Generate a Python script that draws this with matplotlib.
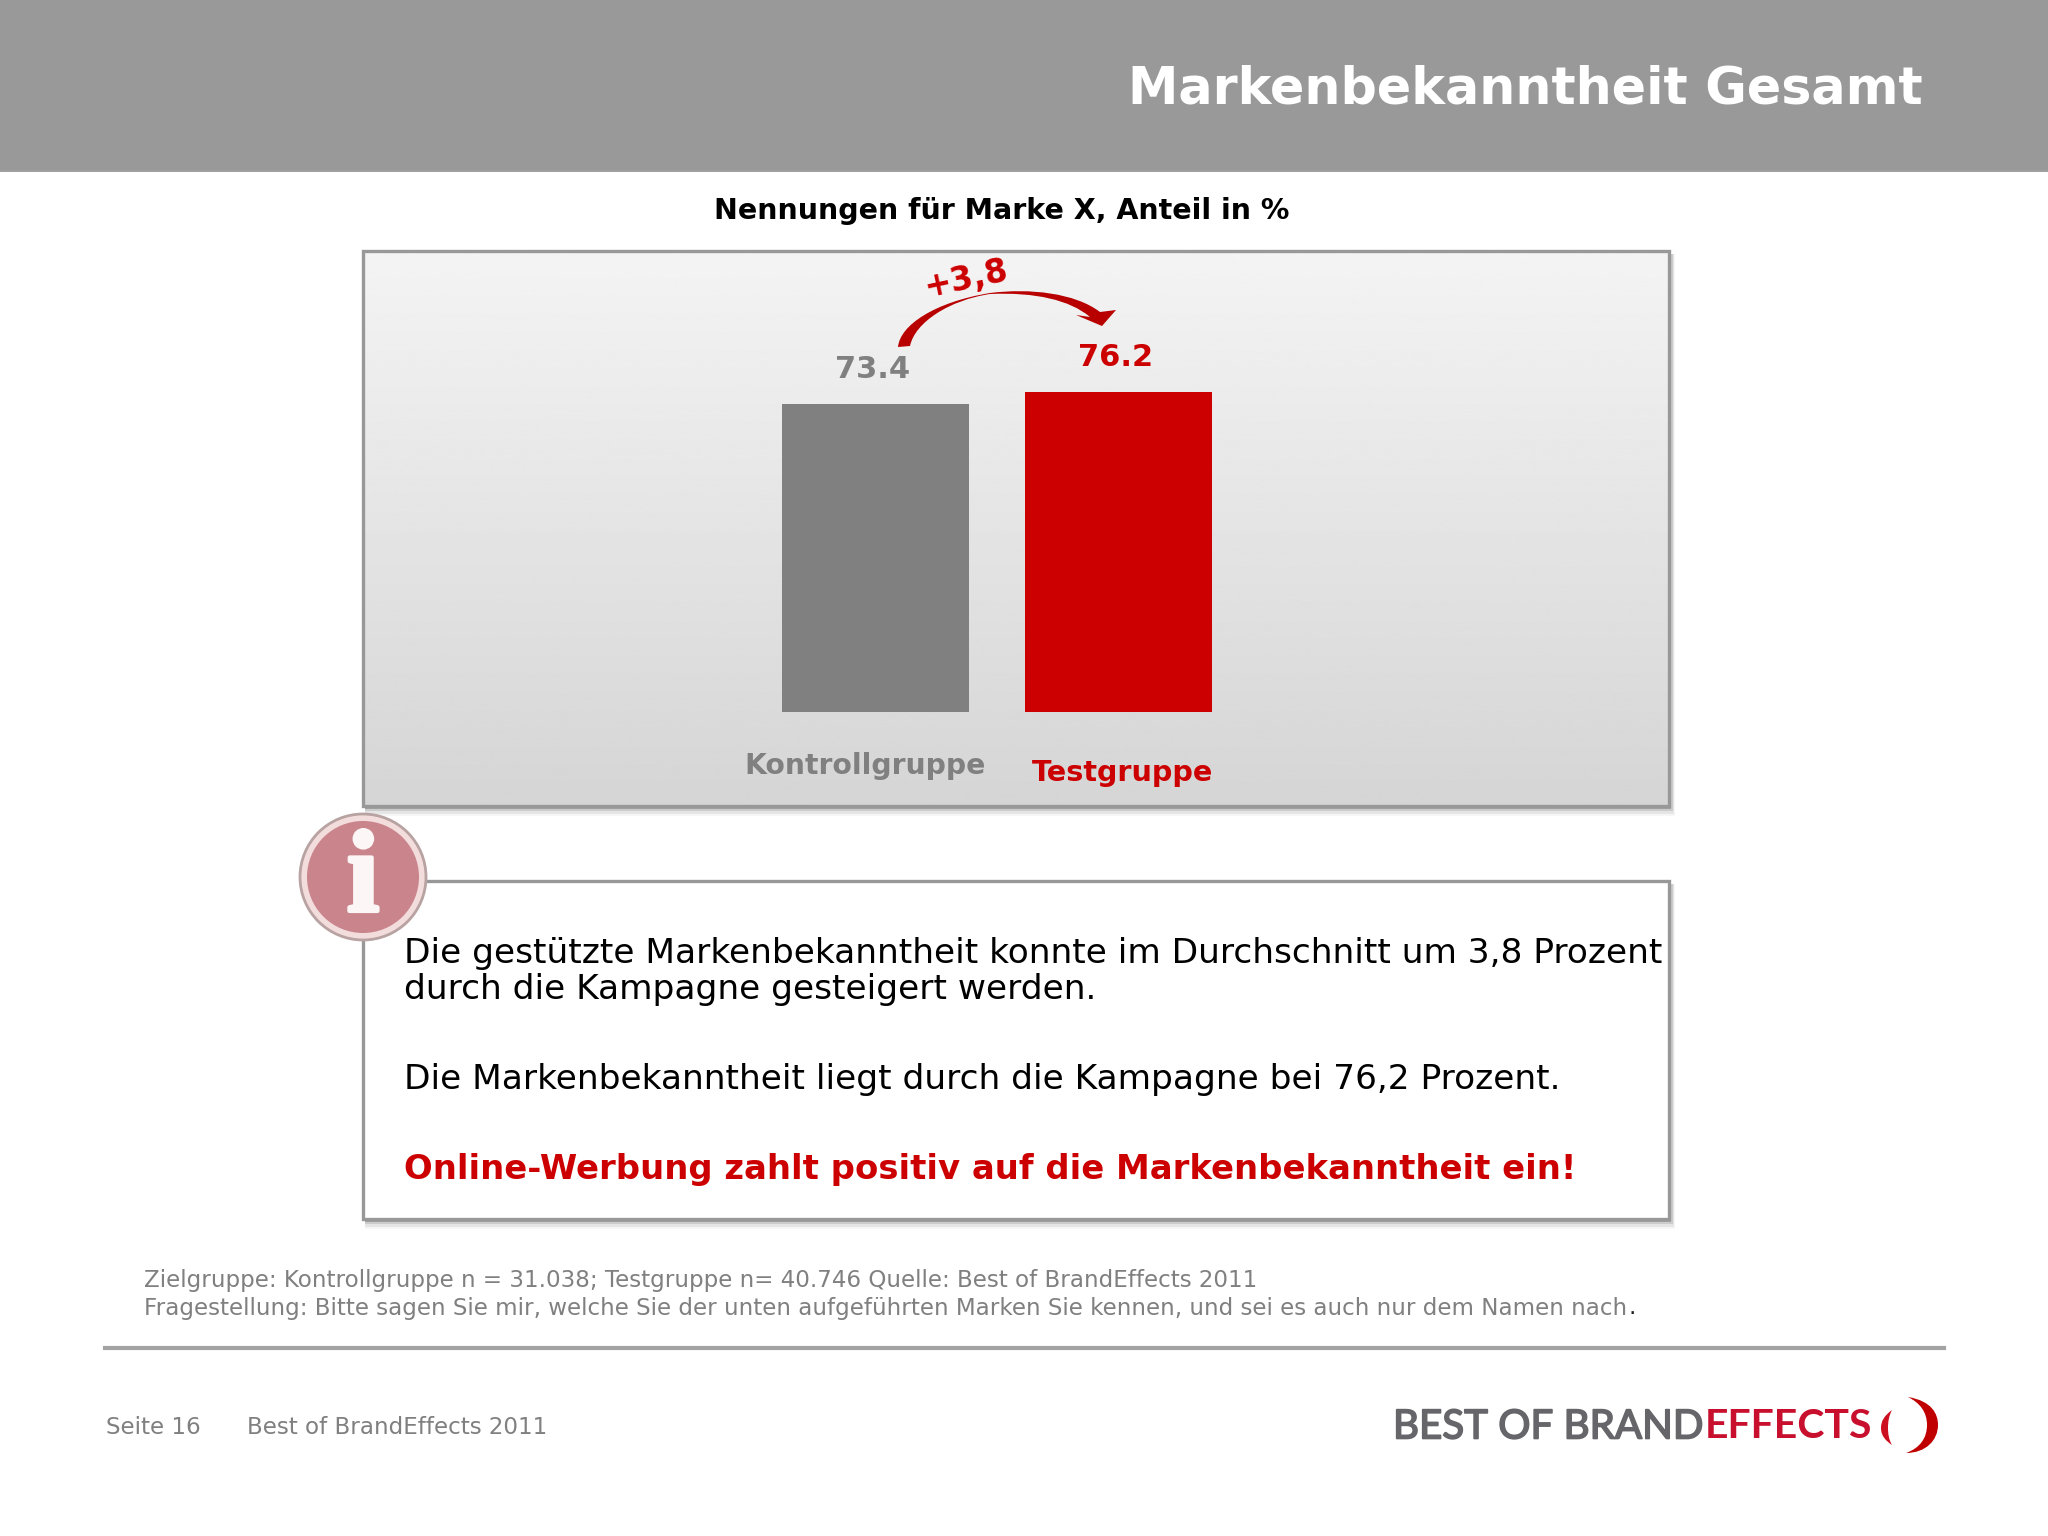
import matplotlib
matplotlib.use('Agg')

import numpy as np
import matplotlib.pyplot as plt
import matplotlib.patheffects as pe
from matplotlib.patches import Rectangle, Circle, PathPatch
from matplotlib.path import Path

# values
groups = ['Kontrollgruppe', 'Testgruppe']
shares = [73.4, 76.2]
lift_label = '+3,8'

title = 'Markenbekanntheit Gesamt'
subtitle = 'Nennungen für Marke X, Anteil in %'
body_lines = ['Die gestützte Markenbekanntheit konnte im Durchschnitt um 3,8 Prozent',
              'durch die Kampagne gesteigert werden.',
              'Die Markenbekanntheit liegt durch die Kampagne bei 76,2 Prozent.']
body_bold = 'Online-Werbung zahlt positiv auf die Markenbekanntheit ein!'
foot_lines = ['Zielgruppe: Kontrollgruppe n = 31.038; Testgruppe n= 40.746 Quelle: Best of BrandEffects 2011',
              'Fragestellung: Bitte sagen Sie mir, welche Sie der unten aufgeführten Marken Sie kennen, und sei es auch nur dem Namen nach']
page_label = 'Seite 16'
footer_label = 'Best of BrandEffects 2011'

GREY = '#808080'
RED = '#cc0000'
W, H = 2048, 1536

plt.rcParams['font.family'] = ['DejaVu Sans']
fig = plt.figure(figsize=(20.48, 15.36), dpi=100, facecolor='white')

# full page axes, in pixels
bg = fig.add_axes([0, 0, 1, 1])
bg.set_xlim(0, W)
bg.set_ylim(H, 0)
bg.axis('off')


def vgrad(x0, y0, x1, y1, top, bottom, z=1):
	g = np.linspace(top, bottom, 256).reshape(-1, 1)
	bg.imshow(g, extent=[x0, x1, y1, y0], cmap='gray', vmin=0, vmax=1,
		aspect='auto', zorder=z, interpolation='bilinear')


def panel(x0, y0, x1, y1):
	# soft shadow, mostly below
	for dx, dy, a in zip([6, 5, 4, 2], [10, 8, 5, 3], [0.05, 0.10, 0.18, 0.35]):
		bg.add_patch(Rectangle((x0 + 2, y0 + 3), x1 - x0 + dx - 2, y1 - y0 + dy - 3,
			fc='#555555', ec='none', alpha=a, zorder=2))


def crescent(verts, color):
	codes = [Path.MOVETO] + [Path.CURVE4] * (len(verts) - 1)
	bg.add_patch(PathPatch(Path(verts, codes), fc=color, ec='none', zorder=6))


# header
bg.add_patch(Rectangle((0, 0), W, 170, fc='#999999', ec='none', zorder=1))
bg.plot([0, W], [170.5, 170.5], color='#8e8e8e', lw=1.2, zorder=1)
bg.text(1923, 90, title, color='white', fontsize=36.5, fontweight='bold', ha='right', va='center', zorder=5)
bg.text(1002, 211, subtitle, color='black', fontsize=20.5, fontweight='bold', ha='center', va='center', zorder=5)

# chart panel
panel(363, 251, 1669, 806)
vgrad(363, 251, 1669, 806, 0.955, 0.835, z=3)
bg.add_patch(Rectangle((363, 251), 1306, 555, fc='none', ec='#989898', lw=2.4, zorder=4))

# bars
ax = fig.add_axes([363 / W, 1 - 806 / H, 1306 / W, 555 / H], facecolor='none', zorder=3)
ax.set_xlim(363, 1669)
y_per_px = 73.4 / 308.0
ax.set_ylim(-(806 - 712) * y_per_px, (712 - 251) * y_per_px)
ax.axis('off')
centers = [875.5, 1118]
colors = [GREY, RED]
ax.bar(centers, shares, width=187, color=colors, linewidth=0)
label_y = [369, 358]
label_x = [873, 1116]
for s, c, x, y in zip(shares, colors, label_x, label_y):
	bg.text(x, y, str(s), color=c, fontsize=22, fontweight='bold', ha='center', va='center', zorder=6)
bg.text(865, 766, groups[0], color=GREY, fontsize=20.3, fontweight='bold', ha='center', va='center', zorder=6)
bg.text(1123, 773, groups[1], color=RED, fontsize=20.6, fontweight='bold', ha='center', va='center', zorder=6)
bg.text(966, 279, lift_label, color=RED, fontsize=23.5, fontweight='bold', ha='center', va='center', rotation=12, zorder=7)

# curved arrow
verts = [(898, 347), (900, 325), (935, 302), (990, 293),
	(1030, 288), (1075, 293), (1100, 312),
	(1116, 310), (1102, 326), (1076, 315), (1090, 317),
	(1070, 300), (1035, 292), (990, 294),
	(950, 300), (915, 322), (910, 346), (898, 347)]
codes = [Path.MOVETO, Path.CURVE4, Path.CURVE4, Path.CURVE4,
	Path.CURVE4, Path.CURVE4, Path.CURVE4,
	Path.LINETO, Path.LINETO, Path.LINETO, Path.LINETO,
	Path.CURVE4, Path.CURVE4, Path.CURVE4,
	Path.CURVE4, Path.CURVE4, Path.CURVE4, Path.CLOSEPOLY]
bg.add_patch(PathPatch(Path(verts, codes), fc='#b80000', ec='none', zorder=6))

# text box
panel(363, 881, 1669, 1219)
bg.add_patch(Rectangle((363, 881), 1306, 338, fc='white', ec='#989898', lw=2.4, zorder=4))
for line, y in zip(body_lines, [954, 990, 1080]):
	bg.text(404, y, line, color='black', fontsize=24.75, ha='left', va='center', zorder=6)
bg.text(404, 1169, body_bold, color=RED, fontsize=24.4, fontweight='bold', ha='left', va='center', zorder=6)

# info icon
bg.add_patch(Circle((363, 877), 63, fc='#f2dcdc', ec='#b8a2a2', lw=2, zorder=7))
bg.add_patch(Circle((363, 877), 56, fc='#c9848c', ec='none', zorder=7))
bg.text(363, 883, 'i', color='#fdf6f6', fontsize=84, fontweight='bold', family='Liberation Serif',
	ha='center', va='center', zorder=8,
	path_effects=[pe.withStroke(linewidth=3, foreground='#fdf6f6')])

# footnote, the closing full stop is darker in the original
for line, y in zip(foot_lines, [1281, 1308]):
	t = bg.text(144, y, line, color=GREY, fontsize=16.6, ha='left', va='center', zorder=6)
ext = t.get_window_extent(fig.canvas.get_renderer())
bg.text(ext.x1 + 1, 1308, '.', color='#222222', fontsize=16.6, ha='left', va='center', zorder=6)
bg.plot([105, 1944], [1348, 1348], color='#a3a3a3', lw=3, zorder=5)
bg.text(106, 1428, page_label, color=GREY, fontsize=16.6, ha='left', va='center', zorder=6)
bg.text(247, 1428, footer_label, color=GREY, fontsize=16.6, ha='left', va='center', zorder=6)

# logo
logo_fx = [pe.withStroke(linewidth=1.2, foreground='#66666a')]
bg.text(1393, 1427, 'BEST OF BRAND', color='#66666a', fontsize=29, family='Lato', ha='left', va='center', zorder=6,
	path_effects=logo_fx)
bg.text(1705, 1427, 'EFFECTS', color='#c8102e', fontsize=29.5, family='Lato', fontweight='bold', ha='left', va='center', zorder=6)
crescent([(1892, 1410), (1884, 1416), (1881, 1421), (1881, 1428),
	(1881, 1436), (1886, 1441), (1892, 1445),
	(1889, 1440), (1888, 1434), (1888, 1428),
	(1888, 1421), (1889, 1416), (1892, 1410)], '#cc1020')
crescent([(1908, 1397), (1932, 1401), (1938, 1414), (1938, 1425),
	(1938, 1440), (1926, 1453), (1906, 1453),
	(1920, 1448), (1927, 1438), (1927, 1425),
	(1927, 1412), (1920, 1403), (1908, 1397)], '#c00000')

fig.savefig('out.png', dpi=100, facecolor='white')
